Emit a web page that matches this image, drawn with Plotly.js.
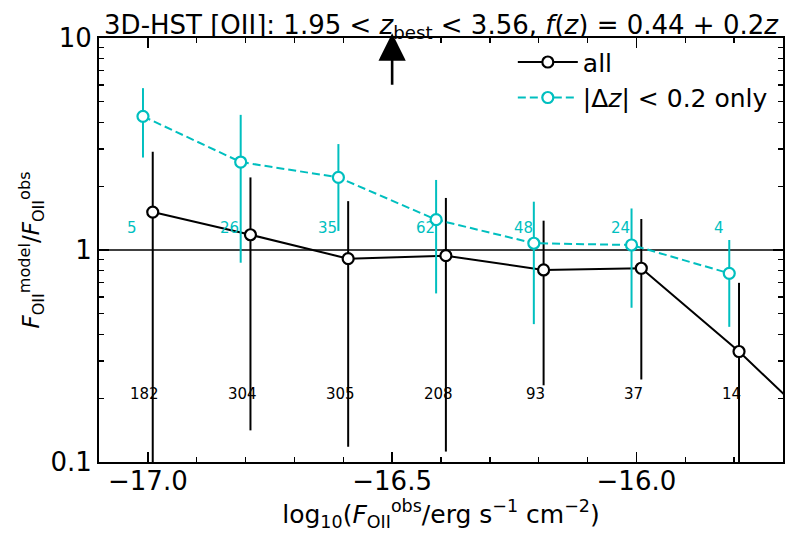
<!DOCTYPE html>
<html>
<head>
<meta charset="utf-8">
<script src="https://cdn.plot.ly/plotly-3.0.1.min.js"></script>
<style>html,body{margin:0;padding:0;background:#fff;}#chart{width:795px;height:533px;}</style>
</head>
<body>
<div id="chart"></div>
<script>
// ---- data ----
const binCenters = [-17.0, -16.8, -16.6, -16.4, -16.2, -16.0, -15.8, -15.6];
const allOffset = 0.01;
const dzOffset = -0.01;

const allY  = [1.51, 1.18, 0.91, 0.94, 0.805, 0.82, 0.332, 0.121];
const allHi = [2.91, 2.20, 1.70, 1.76, 1.375, 1.40, 0.70, 0.121];
const allLo = [0.05, 0.141, 0.118, 0.112, 0.230, 0.245, 0.05, 0.121];
const allN  = [182, 304, 305, 208, 93, 37, 14];

const dzY  = [4.27, 2.60, 2.20, 1.39, 1.076, 1.056, 0.776];
const dzHi = [5.8, 4.34, 3.16, 2.14, 1.69, 1.57, 1.115];
const dzLo = [2.73, 0.871, 1.23, 0.624, 0.447, 0.534, 0.434];
const dzN  = [5, 26, 35, 62, 48, 24, 4];

const xTickVals = [-17.0, -16.5, -16.0];
const xTickText = ['\u221217.0', '\u221216.5', '\u221216.0'];
const yTickVals = [0.1, 1, 10];
const yTickText = ['0.1', '1', '10'];
const yMinorVals = [0.2,0.3,0.4,0.5,0.6,0.7,0.8,0.9,2,3,4,5,6,7,8,9];

const arrowX = -16.5;
const countLevelAll = 0.21;
const countLevelDz = 1.27;

// ---- derived ----
const allX = binCenters.map(v => v + allOffset);
const dzX = binCenters.slice(0, dzY.length).map(v => v + dzOffset);
const BLACK = '#000000';
const CYAN = '#00bfbf';
const FONT = 'DejaVu Sans, sans-serif';

const traces = [
  {
    x: allX, y: allY, type: 'scatter', mode: 'lines+markers', name: 'all',
    line: {color: BLACK, width: 2},
    marker: {symbol: 'circle', size: 11, color: '#ffffff', line: {color: BLACK, width: 2.2}},
    error_y: {type: 'data', symmetric: false,
      array: allHi.map((h, i) => h - allY[i]),
      arrayminus: allLo.map((l, i) => allY[i] - l),
      color: BLACK, thickness: 2, width: 0}
  },
  {
    x: dzX, y: dzY, type: 'scatter', mode: 'lines+markers', name: '|\u0394<i>z</i>| &lt; 0.2 only',
    line: {color: CYAN, width: 2, dash: '8px,4px'},
    marker: {symbol: 'circle', size: 11, color: '#ffffff', line: {color: CYAN, width: 2.2}},
    error_y: {type: 'data', symmetric: false,
      array: dzHi.map((h, i) => h - dzY[i]),
      arrayminus: dzLo.map((l, i) => dzY[i] - l),
      color: CYAN, thickness: 2, width: 0}
  }
];

const annotations = [];
allN.forEach((n, i) => annotations.push({
  x: allX[i] - 0.016, y: Math.log10(countLevelAll), xref: 'x', yref: 'y',
  text: String(n), showarrow: false, font: {family: FONT, size: 15, color: BLACK},
  xanchor: 'center', yanchor: 'middle'
}));
dzN.forEach((n, i) => annotations.push({
  x: dzX[i] - 0.022, y: Math.log10(countLevelDz), xref: 'x', yref: 'y',
  text: String(n), showarrow: false, font: {family: FONT, size: 15, color: CYAN},
  xanchor: 'center', yanchor: 'middle'
}));
annotations.push({
  x: arrowX, y: 1.011, xref: 'x', yref: 'paper', text: '', showarrow: true,
  ax: 0, ay: 53, arrowhead: 2, arrowsize: 2.1, arrowwidth: 2.6, arrowcolor: BLACK, standoff: 0
});

const layout = {
  width: 795, height: 533,
  margin: {l: 99, r: 12, t: 38, b: 71, pad: 0},
  paper_bgcolor: '#ffffff', plot_bgcolor: '#ffffff',
  font: {family: FONT, size: 26, color: BLACK},
  title: {
    text: '3D-HST [OII]: 1.95 &lt; <i>z</i><sub>best</sub> &lt; 3.56, <i>f</i>(<i>z</i>) = 0.44 + 0.2<i>z</i>',
    font: {family: FONT, size: 26, color: BLACK},
    x: 0.5, xref: 'paper', xanchor: 'center', y: 1, yref: 'paper', yanchor: 'bottom', pad: {b: 4}
  },
  showlegend: true,
  legend: {
    x: 0.605, y: 0.997, xanchor: 'left', yanchor: 'top', xref: 'paper', yref: 'paper',
    bgcolor: 'rgba(0,0,0,0)', borderwidth: 0,
    font: {family: FONT, size: 25, color: BLACK}, itemwidth: 60
  },
  xaxis: {
    range: [-17.1, -15.7], showgrid: false, zeroline: false,
    showline: true, linecolor: BLACK, linewidth: 2, mirror: 'ticks',
    ticks: 'inside', ticklen: 10, tickwidth: 1.6, tickcolor: BLACK,
    tickmode: 'array', tickvals: xTickVals, ticktext: xTickText,
    tickfont: {family: FONT, size: 26, color: BLACK}, ticklabelstandoff: -5,
    minor: {ticks: 'inside', ticklen: 5, tickwidth: 1.3, tickcolor: BLACK, dtick: 0.1, tick0: -17.0, showgrid: false},
    title: {text: 'log<sub>10</sub>(<i>F</i><sub>OII</sub><sup>obs</sup>/erg s<sup>\u22121</sup> cm<sup>\u22122</sup>)',
      font: {family: FONT, size: 25, color: BLACK}, standoff: 8}
  },
  yaxis: {
    type: 'log', range: [-1, 1], showgrid: false, zeroline: false,
    showline: true, linecolor: BLACK, linewidth: 2, mirror: 'ticks',
    ticks: 'inside', ticklen: 10, tickwidth: 1.6, tickcolor: BLACK,
    tickmode: 'array', tickvals: yTickVals, ticktext: yTickText,
    tickfont: {family: FONT, size: 26, color: BLACK},
    minor: {ticks: 'inside', ticklen: 5, tickwidth: 1.3, tickcolor: BLACK, tickmode: 'array', tickvals: yMinorVals, showgrid: false},
    title: {text: '<i>F</i><sub>OII</sub><sup>model</sup>/<i>F</i><sub>OII</sub><sup>obs</sup>',
      font: {family: FONT, size: 23, color: BLACK}, standoff: 4}
  },
  shapes: [{type: 'line', xref: 'paper', x0: 0, x1: 1, yref: 'y', y0: 1, y1: 1,
    line: {color: BLACK, width: 1.6}, layer: 'below'}],
  annotations: annotations
};

Plotly.newPlot('chart', traces, layout, {displayModeBar: false, staticPlot: true});
</script>
</body>
</html>
